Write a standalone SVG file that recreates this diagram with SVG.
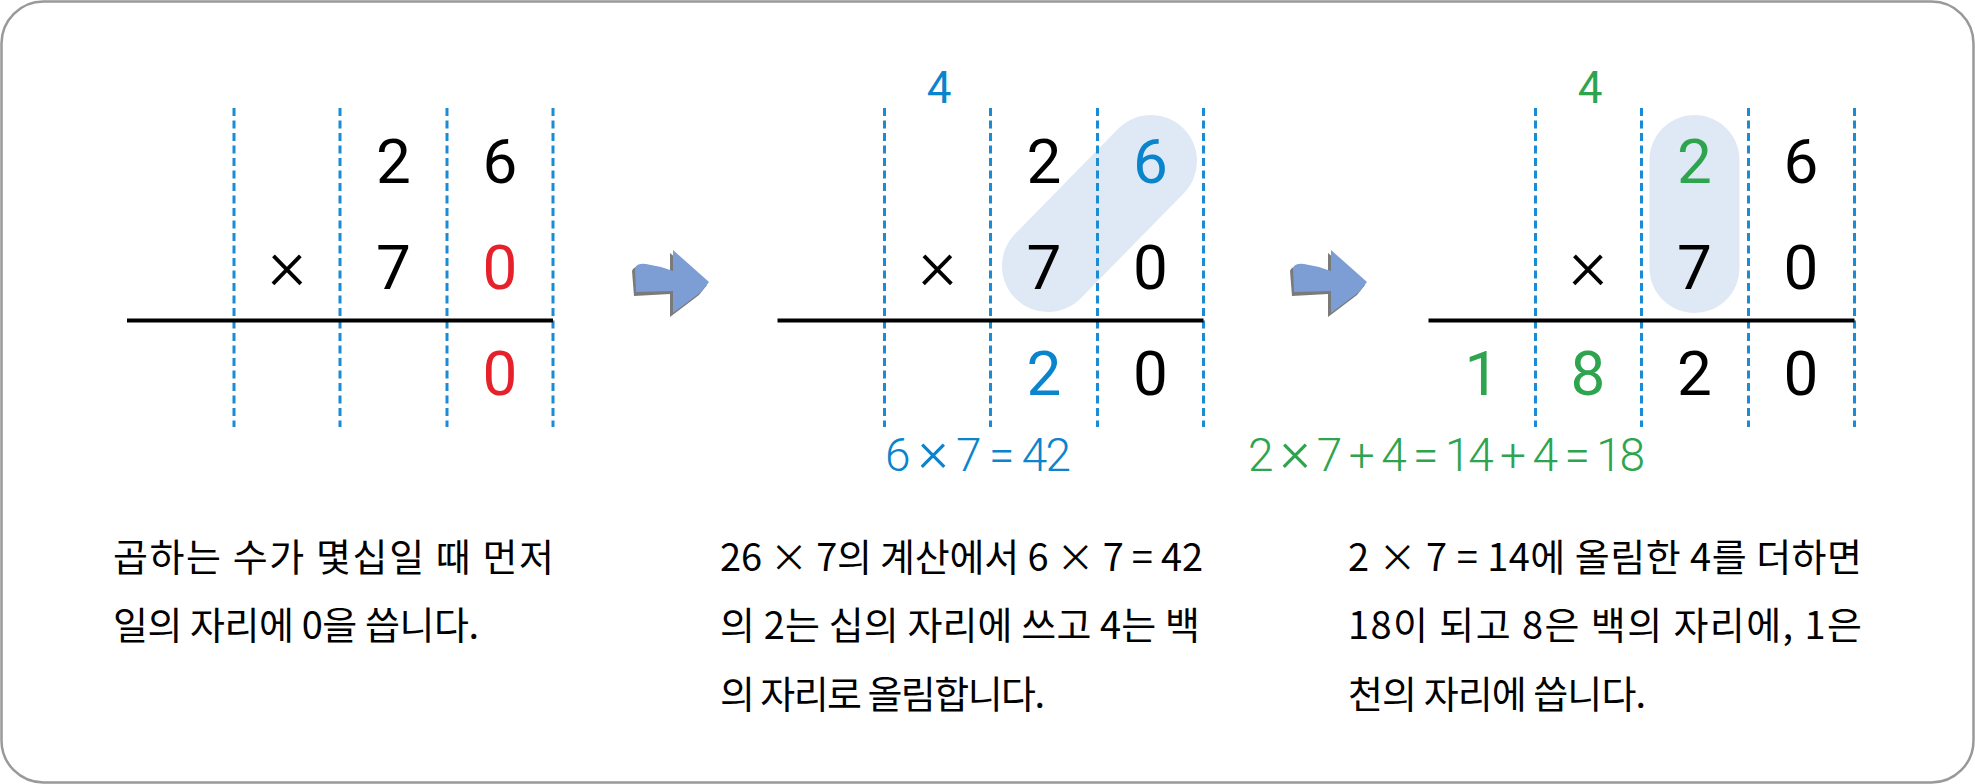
<svg xmlns="http://www.w3.org/2000/svg" width="1975" height="784" viewBox="0 0 1975 784">
  <style>
    .dash { stroke: #1b8bd3; stroke-width: 3; stroke-dasharray: 8 4.5; fill: none; }
    .rule { stroke: #000; stroke-width: 4; fill: none; }
    .dig { font-family: Roboto, "Liberation Sans", sans-serif; font-size: 62px; text-anchor: middle; fill: #000; }
    .times { font-size: 72px; font-weight: 300; }
    .carry { font-family: Roboto, "Liberation Sans", sans-serif; font-size: 44px; text-anchor: middle; }
    .eq { font-family: Roboto, "Liberation Sans", sans-serif; font-size: 46px; font-weight: 300; }
    .eqx { font-size: 58px; }
    .txt { font-family: "Noto Sans CJK KR", "Noto Sans", sans-serif; font-size: 38px; fill: #000; }
    .blue { fill: #0a84cc; }
    .red { fill: #e6212b; }
    .green { fill: #2ea44f; }
    .cap { stroke: #dfe8f5; stroke-linecap: round; fill: none; }
    .arrow { fill: #7d9ed4; }
    .arrowsh { fill: #7a7a7a; }
  </style>
  <defs>
    <g id="arrowShape">
      <path class="arrowsh" d="M632,271 Q634,265 643,267 Q658,269 670,274 L670,253 L707,285 L699,295 L670,317 L670,294 L634,296 Z"/>
      <path class="arrow" d="M635,268 Q637,263 646,264 Q660,266 673,271 L673,250 L709,282 L701,292 L673,313 L673,291 L636,292 Z"/>
    </g>
  </defs>

  <rect id="frame" x="1.5" y="1.5" width="1972" height="781" rx="42" ry="42" fill="#fff" stroke="#999" stroke-width="2.5"/>

  <!-- Panel 1 -->
  <g id="panel1">
    <line class="dash" x1="234" y1="108" x2="234" y2="427"/>
    <line class="dash" x1="340" y1="108" x2="340" y2="427"/>
    <line class="dash" x1="447" y1="108" x2="447" y2="427"/>
    <line class="dash" x1="553" y1="108" x2="553" y2="427"/>
    <line class="rule" x1="127" y1="320.5" x2="553" y2="320.5"/>
    <text class="dig" x="393.5" y="183">2</text>
    <text class="dig" x="500" y="183">6</text>
    <text class="dig times" x="287" y="289">×</text>
    <text class="dig" x="393.5" y="289">7</text>
    <text class="dig red" x="500" y="289">0</text>
    <text class="dig red" x="500" y="395">0</text>
  </g>

  <!-- Panel 2 -->
  <g id="panel2">
    <line class="cap" x1="1048" y1="266" x2="1151" y2="161" stroke-width="92"/>
    <line class="dash" x1="884.5" y1="108" x2="884.5" y2="427"/>
    <line class="dash" x1="990.5" y1="108" x2="990.5" y2="427"/>
    <line class="dash" x1="1097.5" y1="108" x2="1097.5" y2="427"/>
    <line class="dash" x1="1203.5" y1="108" x2="1203.5" y2="427"/>
    <line class="rule" x1="777.5" y1="320.5" x2="1203.5" y2="320.5"/>
    <text class="carry blue" x="939" y="103">4</text>
    <text class="dig" x="1044" y="183">2</text>
    <text class="dig blue" x="1150.5" y="183">6</text>
    <text class="dig times" x="937.5" y="289">×</text>
    <text class="dig" x="1044" y="289">7</text>
    <text class="dig" x="1150.5" y="289">0</text>
    <text class="dig blue" x="1044" y="395">2</text>
    <text class="dig" x="1150.5" y="395">0</text>
    <text class="eq blue" x="885" y="471" textLength="186">6 <tspan class="eqx">×</tspan> 7 = 42</text>
  </g>

  <!-- Panel 3 -->
  <g id="panel3">
    <line class="cap" x1="1694.5" y1="160" x2="1694.5" y2="268" stroke-width="90"/>
    <line class="dash" x1="1535.5" y1="108" x2="1535.5" y2="427"/>
    <line class="dash" x1="1641.5" y1="108" x2="1641.5" y2="427"/>
    <line class="dash" x1="1748.5" y1="108" x2="1748.5" y2="427"/>
    <line class="dash" x1="1854.5" y1="108" x2="1854.5" y2="427"/>
    <line class="rule" x1="1428.5" y1="320.5" x2="1854.5" y2="320.5"/>
    <text class="carry green" x="1590" y="103">4</text>
    <text class="dig green" x="1694.5" y="183">2</text>
    <text class="dig" x="1801" y="183">6</text>
    <text class="dig times" x="1588" y="289">×</text>
    <text class="dig" x="1694.5" y="289">7</text>
    <text class="dig" x="1801" y="289">0</text>
    <text class="dig green" x="1482" y="395">1</text>
    <text class="dig green" x="1588" y="395">8</text>
    <text class="dig" x="1694.5" y="395">2</text>
    <text class="dig" x="1801" y="395">0</text>
    <text class="eq green" x="1248" y="471" textLength="397">2 <tspan class="eqx">×</tspan> 7 + 4 = 14 + 4 = 18</text>
  </g>

  <!-- Connectors (step arrows) -->
  <g id="connectors">
    <use href="#arrowShape"/>
    <use href="#arrowShape" transform="translate(658,0)"/>
  </g>

  <!-- Explanations -->
  <g id="text1">
    <text class="txt" x="113" y="571" textLength="441">곱하는 수가 몇십일 때 먼저</text>
    <text class="txt" x="113" y="639" textLength="366">일의 자리에 0을 씁니다.</text>
  </g>
  <g id="text2">
    <text class="txt" x="720" y="571" textLength="483">26 × 7의 계산에서 6 × 7 = 42</text>
    <text class="txt" x="720" y="639" textLength="480">의 2는 십의 자리에 쓰고 4는 백</text>
    <text class="txt" x="720" y="708" textLength="325">의 자리로 올림합니다.</text>
  </g>
  <g id="text3">
    <text class="txt" x="1348" y="571" textLength="514">2 × 7 = 14에 올림한 4를 더하면</text>
    <text class="txt" x="1348" y="639" textLength="514">18이 되고 8은 백의 자리에, 1은</text>
    <text class="txt" x="1348" y="708" textLength="298">천의 자리에 씁니다.</text>
  </g>
</svg>
